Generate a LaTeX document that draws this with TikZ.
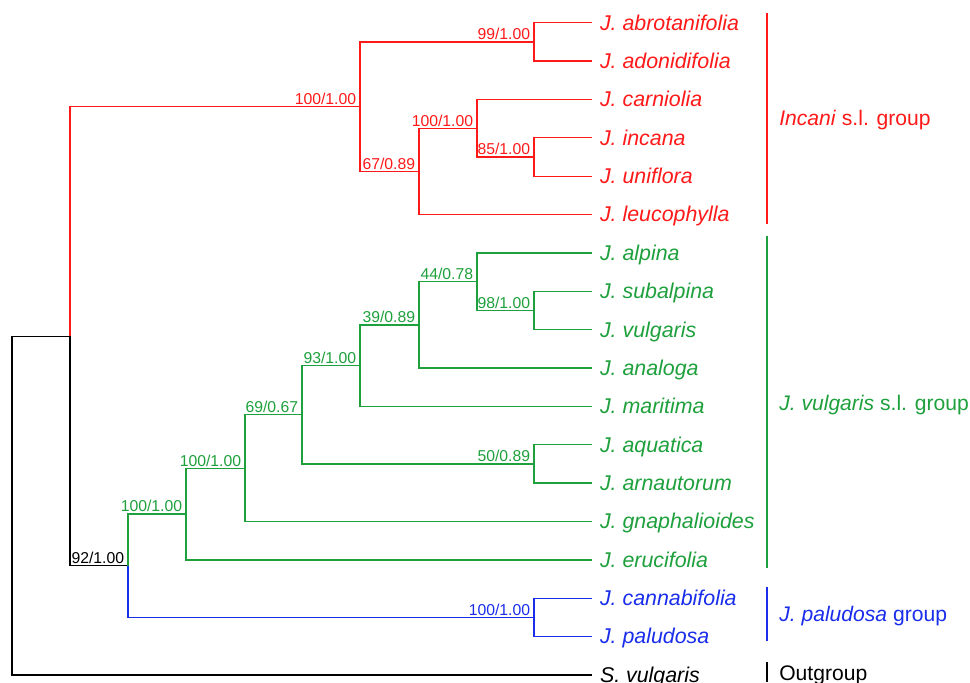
\documentclass[tikz,border=0pt]{standalone}
\usepackage{fontspec}
\setmainfont{Liberation Sans}
\usetikzlibrary{calc}
\definecolor{incred}{RGB}{255,25,25}
\definecolor{vulgreen}{RGB}{30,160,60}
\definecolor{palblue}{RGB}{25,45,235}
\tikzset{
  branch/.style={line width=0.9pt},
  taxon/.style={anchor=west,inner xsep=5.5pt,inner ysep=0pt,text height=13pt,text depth=2.6pt,font=\fontsize{15.2}{18}\selectfont\itshape},
  support/.style={anchor=south east,inner xsep=2.6pt,inner ysep=1.2pt,font=\fontsize{11.2}{13}\selectfont},
  grouplabel/.style={anchor=west,inner sep=0pt,text height=13pt,text depth=2.6pt,font=\fontsize{15}{18}\selectfont}
}

\begin{document}
\begin{tikzpicture}[x=0.025cm,y=-0.025cm]
\useasboundingbox (0,0) rectangle (970,682);
% taxa
\node[taxon,text=incred] (abro) at (592,22.7) {J. abrotanifolia};
\node[taxon,text=incred] (adon) at (592,61.1) {J. adonidifolia};
\node[taxon,text=incred] (carn) at (592,99.4) {J. carniolia};
\node[taxon,text=incred] (inca) at (592,137.8) {J. incana};
\node[taxon,text=incred] (unif) at (592,176.2) {J. uniflora};
\node[taxon,text=incred] (leuc) at (592,214.6) {J. leucophylla};
\node[taxon,text=vulgreen] (alpi) at (592,252.9) {J. alpina};
\node[taxon,text=vulgreen] (suba) at (592,291.3) {J. subalpina};
\node[taxon,text=vulgreen] (vulg) at (592,329.7) {J. vulgaris};
\node[taxon,text=vulgreen] (anal) at (592,368.0) {J. analoga};
\node[taxon,text=vulgreen] (mari) at (592,406.4) {J. maritima};
\node[taxon,text=vulgreen] (aqua) at (592,444.8) {J. aquatica};
\node[taxon,text=vulgreen] (arna) at (592,483.1) {J. arnautorum};
\node[taxon,text=vulgreen] (gnap) at (592,521.5) {J. gnaphalioides};
\node[taxon,text=vulgreen] (eruc) at (592,559.9) {J. erucifolia};
\node[taxon,text=palblue] (cann) at (592,598.3) {J. cannabifolia};
\node[taxon,text=palblue] (palu) at (592,636.6) {J. paludosa};
\node[taxon] (svul) at (592,675.0) {S. vulgaris};
% internal nodes
\coordinate (root) at (12,505.6);
\coordinate (ingrp) at (70,336.2);
\coordinate (inc) at (360,106.6);
\coordinate (n99) at (534,41.9);
\coordinate (n67) at (419,171.4);
\coordinate (n100c) at (477,128.2);
\coordinate (n85) at (534,157.0);
\coordinate (n92) at (128,565.7);
\coordinate (g1) at (186,514.0);
\coordinate (g2) at (245,468.2);
\coordinate (g3) at (302,414.8);
\coordinate (g4) at (360,365.6);
\coordinate (g5) at (419,324.9);
\coordinate (g6) at (477,281.7);
\coordinate (g7) at (534,310.5);
\coordinate (g8) at (534,464.0);
\coordinate (b1) at (534,617.4);
% branches
\draw[branch] (root) |- (ingrp) (root) |- (svul.west) (ingrp) |- (n92);
\draw[branch,incred] (ingrp) |- (inc) (inc) |- (n99) (inc) |- (n67);
\draw[branch,incred] (n99) |- (abro.west) (n99) |- (adon.west);
\draw[branch,incred] (n67) |- (n100c) (n67) |- (leuc.west);
\draw[branch,incred] (n100c) |- (carn.west) (n100c) |- (n85);
\draw[branch,incred] (n85) |- (inca.west) (n85) |- (unif.west);
\draw[branch,vulgreen] (n92) |- (g1) (g1) |- (g2) (g1) |- (eruc.west);
\draw[branch,vulgreen] (g2) |- (g3) (g2) |- (gnap.west);
\draw[branch,vulgreen] (g3) |- (g4) (g3) |- (g8);
\draw[branch,vulgreen] (g4) |- (g5) (g4) |- (mari.west);
\draw[branch,vulgreen] (g5) |- (g6) (g5) |- (anal.west);
\draw[branch,vulgreen] (g6) |- (alpi.west) (g6) |- (g7);
\draw[branch,vulgreen] (g7) |- (suba.west) (g7) |- (vulg.west);
\draw[branch,vulgreen] (g8) |- (aqua.west) (g8) |- (arna.west);
\draw[branch,palblue] (n92) |- (b1) (b1) |- (cann.west) (b1) |- (palu.west);
% support values
\node[support,text=incred] (s-inc) at (inc) {100/1.00};
\node[support,text=incred] (s-n99) at (n99) {99/1.00};
\node[support,text=incred] (s-n67) at (n67) {67/0.89};
\node[support,text=incred] (s-n100c) at (n100c) {100/1.00};
\node[support,text=incred] (s-n85) at (n85) {85/1.00};
\node[support] (s-n92) at (n92) {92/1.00};
\node[support,text=vulgreen] (s-g1) at (g1) {100/1.00};
\node[support,text=vulgreen] (s-g2) at (g2) {100/1.00};
\node[support,text=vulgreen] (s-g3) at (g3) {69/0.67};
\node[support,text=vulgreen] (s-g4) at (g4) {93/1.00};
\node[support,text=vulgreen] (s-g5) at (g5) {39/0.89};
\node[support,text=vulgreen] (s-g6) at (g6) {44/0.78};
\node[support,text=vulgreen] (s-g7) at (g7) {98/1.00};
\node[support,text=vulgreen] (s-g8) at (g8) {50/0.89};
\node[support,text=palblue] (s-b1) at (b1) {100/1.00};
% groups
\draw[branch,incred] (767,13) -- (767,224);
\draw[branch,vulgreen] (767,236) -- (767,568);
\draw[branch,palblue] (767,587) -- (767,641);
\draw[branch] (767,662) -- (767,682);
\node[grouplabel,text=incred] (incani) at (779,118) {\textit{Incani} s.l. group};
\node[grouplabel,text=vulgreen] (vulgs) at (779,403) {\textit{J. vulgaris} s.l. group};
\node[grouplabel,text=palblue] (palus) at (779,614) {\textit{J. paludosa} group};
\node[grouplabel] (outg) at (779,673) {Outgroup};
\end{tikzpicture}
\end{document}
